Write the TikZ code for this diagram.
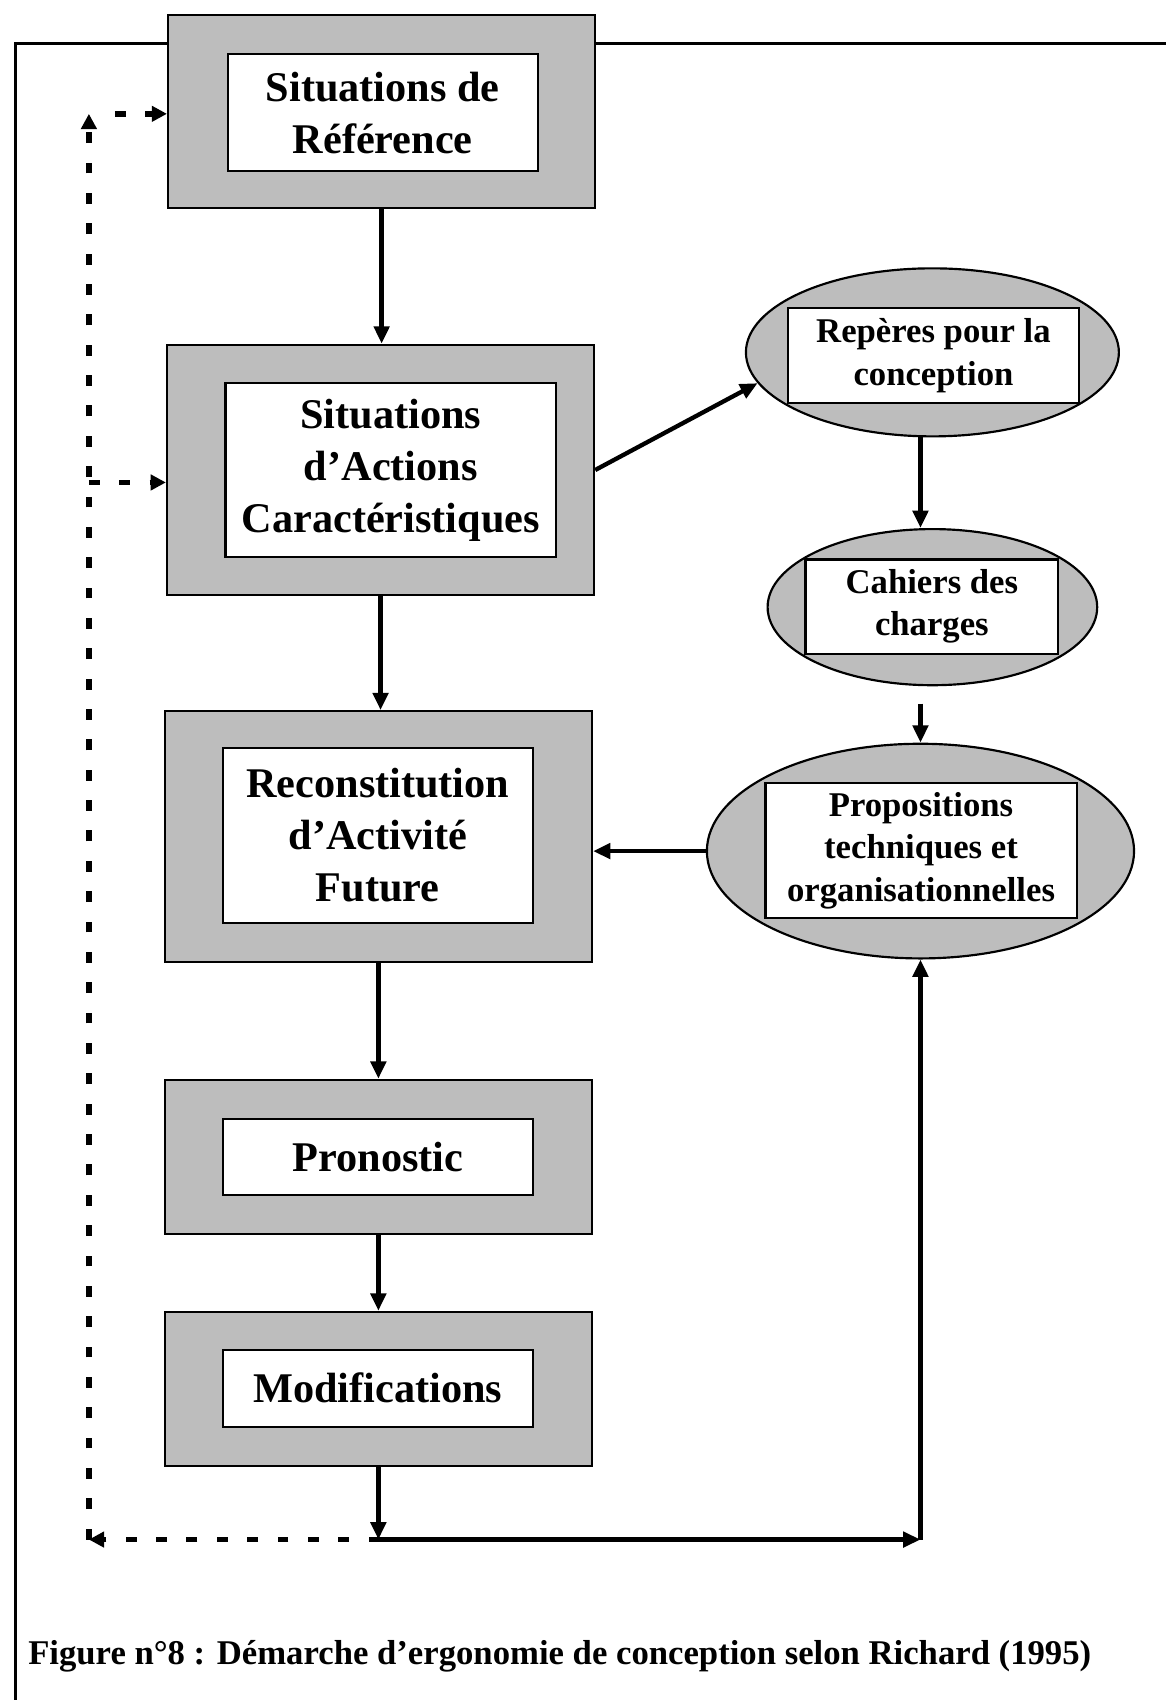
\documentclass[tikz,border=0pt]{standalone}
\usepackage{fontspec}
\setmainfont{Liberation Serif}
\usetikzlibrary{arrows.meta,shapes.geometric}

\begin{document}
\begin{tikzpicture}[
                  x = 0.5pt,
                  y = -0.5pt,
       outer/.style = {draw, line width=1pt, fill=black!26, inner sep=0pt,
                       minimum width=197pt},
       inner/.style = {draw, line width=1pt, fill=white, inner sep=0pt, align=center,
                       font=\fontsize{19.5}{24}\selectfont\bfseries},
      bubble/.style = {ellipse, draw, line width=1pt, fill=black!26, inner sep=0pt},
         tag/.style = {draw, line width=1pt, fill=white, inner sep=0pt, align=center,
                       font=\fontsize{16}{19.5}\selectfont\bfseries},
         arr/.style = {-{Triangle[length=8pt,width=7pt]}, line width=2pt},
         dsh/.style = {-{Triangle[length=7pt,width=7pt]}, line width=2.5pt,
                       dash pattern=on 5pt off 9pt},
                    ]
\useasboundingbox (0,0) rectangle (1075,1568);
% frame
\draw[line width=1.5pt] (14,1568) -- (14,40) -- (1075,40);

% left column
\node[outer, minimum height=89pt]    (ref) at (352,103)  {};
\node[inner, minimum width=143pt, minimum height=54pt]    (refin) at (353,104)  {Situations de\\Référence};
\node[outer, minimum height=115.5pt] (sac) at (351,433.5) {};
\node[inner, minimum width=152.5pt, minimum height=80.5pt] (sacin) at (360.5,433.5) {Situations\\d’Actions\\Caractéristiques};
\node[outer, minimum height=115.5pt] (rac) at (349,771.5) {};
\node[inner, minimum width=143pt, minimum height=80.5pt]  (racin) at (348.5,770.5) {Reconstitution\\d’Activité\\Future};
\node[outer, minimum height=71pt]    (pro) at (349,1067) {};
\node[inner, minimum width=143pt, minimum height=35pt]    (proin) at (348.5,1067) {Pronostic};
\node[outer, minimum height=71pt]    (mod) at (349,1281) {};
\node[inner, minimum width=143pt, minimum height=35.5pt]  (modin) at (348.5,1280.5) {Modifications};

% right column
\node[bubble, minimum width=172pt, minimum height=77.5pt] (rep) at (860,325) {};
\node[tag, minimum width=134pt, minimum height=44pt]      (repin) at (861,328) {Repères pour la\\conception};
\node[bubble, minimum width=152pt, minimum height=72pt]   (cah) at (860,560) {};
\node[tag, minimum width=116.5pt, minimum height=43.5pt]  (cahin) at (859.5,559.5) {Cahiers des\\charges};
\node[bubble, minimum width=197pt, minimum height=99pt]   (prop) at (849,785) {};
\node[tag, minimum width=143.5pt, minimum height=62.5pt]  (propin) at (849.5,784.5) {Propositions\\techniques et\\organisationnelles};

\node[anchor=west, font=\fontsize{16}{19}\selectfont\bfseries] (cap) at (19,1528)
    {Figure n°8 : Démarche d’ergonomie de conception selon Richard (1995)};

\coordinate (jn) at (350,1420);
\coordinate (rj) at (849,1420);
\coordinate (dl) at (82,1420);
\coordinate (dt) at (82,105);
\coordinate (dm) at (82,445);

\draw[arr] (ref.south) -- (ref.south |- sac.north);
\draw[arr] (sac.south) -- (sac.south |- rac.north);
\draw[arr] (rac.south) -- (pro.north);
\draw[arr] (pro.south) -- (mod.north);
\draw[arr] (mod.south) -- (mod.south |- jn);
\draw[arr] (jn) -- (rj);
\draw[arr] (rj) -- (prop.south);
\draw[arr] (sac.east) -- (rep.190);
\draw[arr] (rep.south -| prop) -- (cah.north -| prop);
\draw[arr, shorten <=8pt] (cah.south -| prop) -- (prop.north);
\draw[arr] (prop.west) -- (prop.west -| rac.east);

% feedback
\draw[dsh] (jn) -- (dl);
\draw[dsh] (dl) -- (dt);
\draw[dsh, shorten <=12pt] (dt) -- (dt -| ref.west);
\draw[dsh] (dm) -- (dm -| sac.west);
\end{tikzpicture}
\end{document}
